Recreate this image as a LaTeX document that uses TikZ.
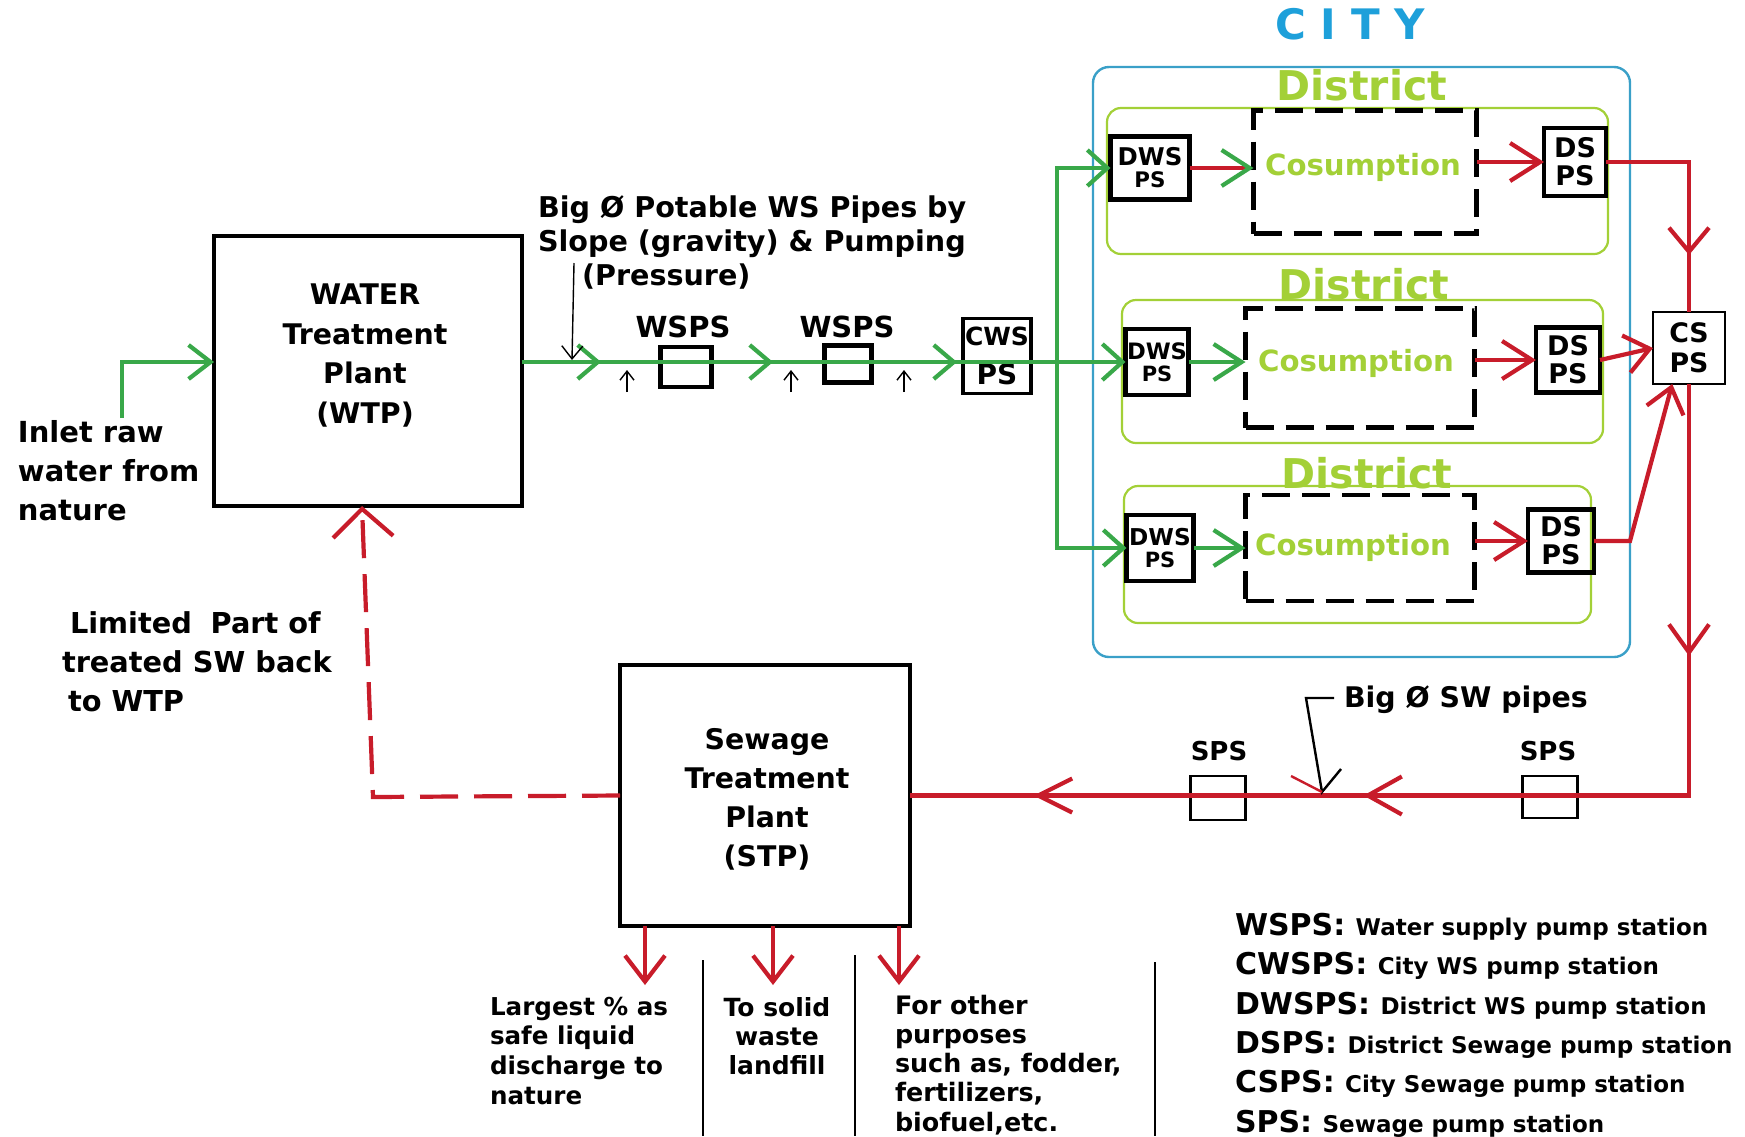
\documentclass[tikz,border=0pt]{standalone}
\usepackage{fontspec}
\setmainfont{DejaVu Sans}
\usetikzlibrary{arrows.meta,decorations.markings,calc}
\definecolor{grn}{RGB}{57,168,73}
\definecolor{rd}{RGB}{200,28,42}
\definecolor{yg}{RGB}{163,208,55}
\definecolor{cityblue}{RGB}{30,160,218}
\definecolor{cityline}{RGB}{58,160,200}
\newcommand{\myfs}[2]{\fontsize{#1}{#2}\selectfont}
\tikzset{
  every node/.style={inner sep=0pt, outer sep=0pt, font=\bfseries},
  box/.style 2 args={draw=black, line width=2.4pt, minimum width=#1, minimum height=#2},
  thinbox/.style 2 args={draw=black, line width=1.4pt, minimum width=#1, minimum height=#2},
  cons/.style 2 args={draw=black, line width=2.4pt, dash pattern=on 14pt off 6pt, minimum width=#1, minimum height=#2},
  district/.style 2 args={draw=yg, line width=1.1pt, rounded corners=7pt, minimum width=#1, minimum height=#2},
  gpipe/.style={color=grn, line width=2.1pt},
  rpipe/.style={color=rd, line width=2.1pt},
  tipA/.style 2 args={-{Straight Barb[length=#1,width=#2]}},
  constext/.style={text=yg, font=\bfseries\myfs{14.6}{16}, anchor=base},
  distext/.style={text=yg, font=\bfseries\myfs{20.5}{22}, anchor=base},
}
\begin{document}
\begin{tikzpicture}[x=0.5pt,y=-0.5pt]
\useasboundingbox (0,0) rectangle (1745,1136);
\fill[white] (0,0) rectangle (1745,1136);

% ---------- city and districts ----------
\node[draw=cityline, line width=1.2pt, rounded corners=8pt, minimum width=268.5pt, minimum height=295pt] (city) at (1361.5,362) {};
\node[font=\bfseries\myfs{21}{24}, text=cityblue, anchor=base] (citylbl) at (1350,39) {C I T Y};

\node[district={250.5pt}{73pt}] (d1) at (1357.5,181) {};
\node[district={240.5pt}{71.5pt}] (d2) at (1362.5,371.5) {};
\node[district={233.5pt}{68.5pt}] (d3) at (1357.5,554.5) {};
\node[distext] (dl1) at (1362,100) {District};
\node[distext] (dl2) at (1364,299) {District};
\node[distext] (dl3) at (1367,488) {District};

\node[cons={111.5pt}{61.5pt}] (c1) at (1365,172) {};
\node[cons={114.5pt}{59.5pt}] (c2) at (1360,368) {};
\node[cons={114.5pt}{53pt}] (c3) at (1360,548) {};
\node[constext] (ct1) at (1363,175) {Cosumption};
\node[constext] (ct2) at (1356,371) {Cosumption};
\node[constext] (ct3) at (1353,555) {Cosumption};

\node[box={39.5pt}{31.5pt}, align=center, font=\bfseries\myfs{10.7}{11}] (dws1) at (1150,168) {{\myfs{12.2}{11}DWS}\\PS};
\node[box={31.5pt}{33pt}, align=center, font=\bfseries\myfs{10.5}{11}] (dws2) at (1157,362) {{\myfs{11.3}{11}DWS}\\PS};
\node[box={33.5pt}{33pt}, align=center, font=\bfseries\myfs{10.5}{11}] (dws3) at (1160,548) {{\myfs{11.6}{11}DWS}\\PS};

\node[box={31pt}{34pt}, align=center, font=\bfseries\myfs{13.5}{14}] (ds1) at (1575,162) {DS\\PS};
\node[box={32pt}{32.5pt}, align=center, font=\bfseries\myfs{13.5}{14}] (ds2) at (1568,360) {DS\\PS};
\node[box={33pt}{31.5pt}, align=center, font=\bfseries\myfs{13.5}{14}] (ds3) at (1561,541) {DS\\PS};

\node[thinbox={36pt}{36pt}, fill=white, align=center, font=\bfseries\myfs{13.4}{15}] (cs) at (1689,348) {CS\\PS};

% ---------- WTP side ----------
\node[box={154pt}{135pt}] (wtp) at (368,371) {};
\node[anchor=north, align=center, font=\bfseries\myfs{14.2}{19.75}] (wtpt) at (365,284) {WATER\\Treatment\\Plant\\(WTP)};

\node[anchor=north west, align=left, font=\bfseries\myfs{14.5}{19.5}] (inlett) at (18,420) {Inlet raw\\water from\\nature};

\node[anchor=north west, align=left, font=\bfseries\myfs{14.3}{17}] (wstext) at (538,196) {Big Ø Potable WS Pipes by\\Slope (gravity) \& Pumping\\\hspace{22pt}(Pressure)};

\node[box={25.5pt}{20pt}] (wsps1) at (686,367) {};
\node[box={23.5pt}{18.5pt}] (wsps2) at (848,364) {};
\node[font=\bfseries\myfs{14.5}{16}, anchor=base] (wl1) at (683,337) {WSPS};
\node[font=\bfseries\myfs{14.5}{16}, anchor=base] (wl2) at (847,337) {WSPS};

\node[draw=black, line width=1.7pt, minimum width=34pt, minimum height=37.5pt, align=center, font=\bfseries\myfs{14}{19.5}] (cws) at (997,356) {{\myfs{12.5}{19.5}CWS}\\PS};

% inlet pipe
\coordinate (inlet) at (122,418);
\draw[gpipe, tipA={11pt}{17pt}] (inlet) |- (wtp.west |- 0,362);

% main green line
\coordinate (split) at (1057,362);
\draw[gpipe, tipA={10pt}{18pt}, postaction={decorate}, decoration={markings,
  mark=at position 39.5pt with {\arrow{Straight Barb[length=10pt,width=17pt]}},
  mark=at position 125.5pt with {\arrow{Straight Barb[length=10pt,width=17pt]}},
  mark=at position 217.5pt with {\arrow{Straight Barb[length=10pt,width=17pt]}}}]
  (wtp.east |- split) -- (dws2.west);
\draw[gpipe, tipA={10pt}{18pt}] (split) |- (dws1.west);
\draw[gpipe, tipA={10pt}{18pt}] (split) |- (dws3.west);

% WS leader and small arrows
\coordinate (wsl) at (574,263);
\coordinate (wsl2) at (572,360);
\draw[line width=0.7pt, tipA={6.5pt}{10.5pt}] (wsl) -- (wsl2);
\foreach \xx [count=\i] in {627,791,904}{
  \coordinate (ua\i) at (\xx,392);
  \coordinate (ub\i) at (\xx,370);
  \draw[line width=0.7pt, tipA={4.5pt}{7pt}] (ua\i) -- (ub\i);
}

% districts: DWS -> consumption -> DS
\draw[rpipe, -{Straight Barb[length=14pt,width=18pt,color=grn]}] (dws1.east) -- (dws1.east -| c1.west);
\draw[gpipe, tipA={14pt}{18pt}] (dws2.east) -- (dws2.east -| c2.west);
\draw[gpipe, tipA={14pt}{18pt}] (dws3.east) -- (dws3.east -| c3.west);
\draw[rpipe, tipA={15pt}{19pt}] (ds1.west -| c1.east) -- (ds1.west);
\draw[rpipe, tipA={15pt}{19pt}] (ds2.west -| c2.east) -- (ds2.west);
\draw[rpipe, tipA={15pt}{19pt}] (ds3.west -| c3.east) -- (ds3.west);

% DS -> CS
\draw[rpipe, postaction={decorate}, decoration={markings,
  mark=at position 88pt with {\arrow{Straight Barb[length=12pt,width=20pt]}}}]
  (ds1.east) -| (cs.north);
\draw[rpipe, tipA={12pt}{19pt}] (ds2.east) -- (cs.west);
\draw[rpipe, tipA={12pt}{19pt}] (ds3.east) -- ++(36,0) -- (cs.-115);

% ---------- sewage side ----------
\node[box={145pt}{130.5pt}] (stp) at (765,795.5) {};
\node[anchor=north, align=center, font=\bfseries\myfs{14.2}{19.65}] (stpt) at (767,728) {Sewage\\Treatment\\Plant\\(STP)};

\node[thinbox={27.5pt}{22pt}] (sps1) at (1218,798) {};
\node[thinbox={27.5pt}{21pt}] (sps2) at (1550,797) {};
\node[font=\bfseries\myfs{13}{15}, anchor=base] (sl1) at (1219,760) {SPS};
\node[font=\bfseries\myfs{13}{15}, anchor=base] (sl2) at (1548,760) {SPS};

\draw[rpipe, postaction={decorate}, decoration={markings,
  mark=at position 136pt with {\arrow{Straight Barb[length=14pt,width=20pt]}},
  mark=at position 368.5pt with {\arrow{Straight Barb[length=17pt,width=19pt]}},
  mark=at position 533.5pt with {\arrow{Straight Barb[length=17pt,width=17pt]}}}]
  (cs.south) |- (stp.east);

% SW pipes leader
\node[anchor=base west, font=\bfseries\myfs{14.2}{16}] (swtext) at (1344,707) {Big Ø SW pipes};
\coordinate (swl0) at (1334,698);
\coordinate (swl1) at (1306,698);
\coordinate (swl2) at (1322,792);
\draw[line width=1.2pt] (swl0) -- (swl1) -- (swl2) -- ++(19,-23);
\draw[rd, line width=1.2pt] (swl2) -- ++(-31,-16);

% feedback to WTP
\coordinate (fb) at (373,797);
\draw[rpipe, dash pattern=on 19pt off 8pt, tipA={14pt}{30pt}] (stp.west) -- (fb) -- ($(wtp.south)+(-6,0)$);
\node[anchor=north west, align=left, font=\bfseries\myfs{14.4}{19.5}] (limt) at (62,612) {\hspace{4pt}Limited\hspace{0.3em} Part of\\treated SW back\\\hspace{3pt}to WTP};

% STP outputs
\foreach \xx [count=\i] in {645,773,899}{
  \coordinate (o\i) at (\xx,985);
  \draw[rpipe, tipA={13pt}{20pt}] (stp.south -| o\i) -- (o\i);
}
\foreach \xx/\yy [count=\i] in {703/960,855/955,1155/962}{
  \coordinate (sa\i) at (\xx,\yy);
  \coordinate (sb\i) at (\xx,1136);
  \draw[line width=1pt] (sa\i) -- (sb\i);
}
\node[anchor=north west, align=left, font=\bfseries\myfs{12.3}{14.8}] (out1) at (490,997) {Largest \% as\\safe liquid\\discharge to\\nature};
\node[anchor=north, align=center, font=\bfseries\myfs{12.5}{14.7}] (out2) at (777,997) {To solid\\waste\\landfill};
\node[anchor=north west, align=left, font=\bfseries\myfs{12.7}{14.6}] (out3) at (895,995) {For other\\purposes\\such as, fodder,\\fertilizers,\\biofuel,etc.};

% legend
\node[anchor=north west, align=left, font=\bfseries\myfs{15}{19.7}] (legend) at (1235,913) {%
WSPS: {\myfs{11.5}{19.7}Water supply pump station}\\
CWSPS: {\myfs{11.5}{19.7}City WS pump station}\\
DWSPS: {\myfs{11.5}{19.7}District WS pump station}\\
DSPS: {\myfs{11.5}{19.7}District Sewage pump station}\\
CSPS: {\myfs{11.5}{19.7}City Sewage pump station}\\
SPS: {\myfs{11.5}{19.7}Sewage pump station}};
\end{tikzpicture}
\end{document}
